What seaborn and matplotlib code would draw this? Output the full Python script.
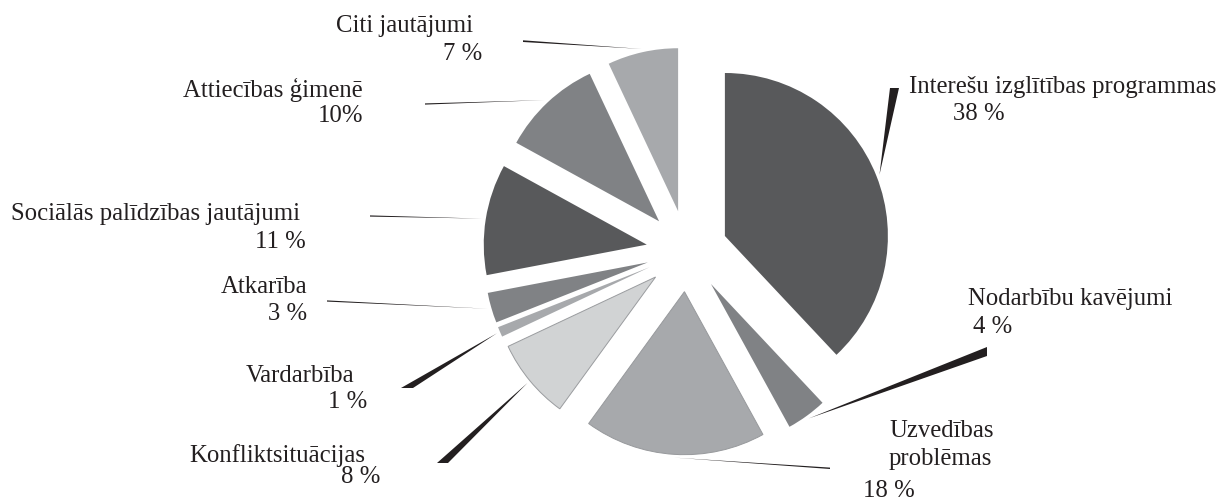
import matplotlib
matplotlib.use("Agg")
import matplotlib.pyplot as plt
from matplotlib.patches import Polygon
import numpy as np
import seaborn as sns

# --- data -----------------------------------------------------------------
categories = [
    "Interešu izglītības programmas",
    "Nodarbību kavējumi",
    "Uzvedības\nproblēmas",
    "Konfliktsituācijas",
    "Vardarbība",
    "Atkarība",
    "Sociālās palīdzības jautājumi",
    "Attiecības ģimenē",
    "Citi jautājumi",
]
shares = [38, 4, 18, 8, 1, 3, 11, 10, 7]
share_labels = ["38 %", "4 %", "18 %", "8 %", "1 %", "3 %", "11 %", "10%", "7 %"]

# --- styling --------------------------------------------------------------
sns.set_theme(style="white")
plt.rcParams["font.family"] = ["Liberation Serif", "DejaVu Serif"]

greys = sns.color_palette(["#58595b", "#808285", "#a7a9ac", "#d1d3d4"])
slice_colors = [greys[0], greys[1], greys[2], greys[3], greys[2],
                greys[1], greys[0], greys[1], greys[2]]

W, H = 1225, 501
CX, CY, R = 687, 251, 163          # pie centre and radius in pixels
EXPLODE = 0.25


def to_data(x, y):
    """Pixel position (origin top-left) -> data units of the pie axes."""
    return (x - CX) / R, (CY - y) / R


fig = plt.figure(figsize=(W / 100, H / 100), dpi=100)
ax = fig.add_axes([0, 0, 1, 1])

wedges, _ = ax.pie(
    shares,
    colors=slice_colors,
    startangle=90,
    counterclock=False,
    explode=[EXPLODE] * len(shares),
    radius=1,
    wedgeprops=dict(linewidth=0),
)
# fine outline on the lighter slices
for w, ec in zip(wedges, [None, None, "#97999c", "#9a9c9f", None, None, None, None, None]):
    if ec is not None:
        w.set_edgecolor(ec)
        w.set_linewidth(0.7)

x0, y_top = to_data(0, 0)
x1, y_bot = to_data(W, H)
ax.set_xlim(x0, x1)
ax.set_ylim(y_bot, y_top)
ax.set_aspect("equal", adjustable="box")
ax.axis("off")

# --- tapered leader lines -------------------------------------------------
# wide end of each leader (two pixel points); the sharp tip sits on the slice arc
leader_base = [
    ((890, 88), (899, 88)),
    ((987, 347), (987, 356)),
    ((830, 467.6), (830, 469.0)),
    ((437, 463), (448, 463)),
    ((401, 388), (413, 388)),
    ((327, 300.4), (327, 301.6)),
    ((370, 215.4), (370, 216.6)),
    ((425, 103.4), (425, 104.6)),
    ((523, 40.3), (523, 42.0)),
]

cum = np.concatenate([[0], np.cumsum(shares)]) / sum(shares) * 360
for i, base in enumerate(leader_base):
    mid = np.deg2rad(90 - (cum[i] + cum[i + 1]) / 2)
    ux, uy = np.cos(mid), np.sin(mid)
    tip = ((EXPLODE + 1.02) * ux, (EXPLODE + 1.02) * uy)
    pts = [tip, to_data(*base[0]), to_data(*base[1])]
    ax.add_patch(Polygon(pts, closed=True, facecolor="#231f20",
                         edgecolor="none", zorder=3))

# --- labels ----------------------------------------------------------------
FS = 17.8
TXT = "#231f20"
# (x, baseline y, horizontal alignment) for category name and for percentage
name_pos = [
    (909, 93, "left"),
    (968, 305, "left"),
    (889, 437, "left"),
    (365, 462, "right"),
    (354, 382, "right"),
    (307, 293, "right"),
    (300, 220, "right"),
    (363, 97, "right"),
    (473, 32, "right"),
]
pct_pos = [
    (953, 120, "left"),
    (973, 333, "left"),
    (863, 497, "left"),
    (380, 483, "right"),
    (367, 408, "right"),
    (307, 320, "right"),
    (306, 248, "right"),
    (363, 122, "right"),
    (482, 60, "right"),
]

for name, pct, (nx, ny, nha), (px, py, pha) in zip(categories, share_labels,
                                                     name_pos, pct_pos):
    if "\n" in name:
        first, second = name.split("\n")
        ax.text(*to_data(nx, ny), first, ha=nha, va="baseline",
                fontsize=FS, color=TXT)
        ax.text(*to_data(nx, ny + 28), second, ha=nha, va="baseline",
                fontsize=FS, color=TXT)
    else:
        ax.text(*to_data(nx, ny), name, ha=nha, va="baseline",
                fontsize=FS, color=TXT)
    ax.text(*to_data(px, py), pct, ha=pha, va="baseline",
            fontsize=FS, color=TXT)

fig.savefig("out.png", dpi=100, facecolor="white")
